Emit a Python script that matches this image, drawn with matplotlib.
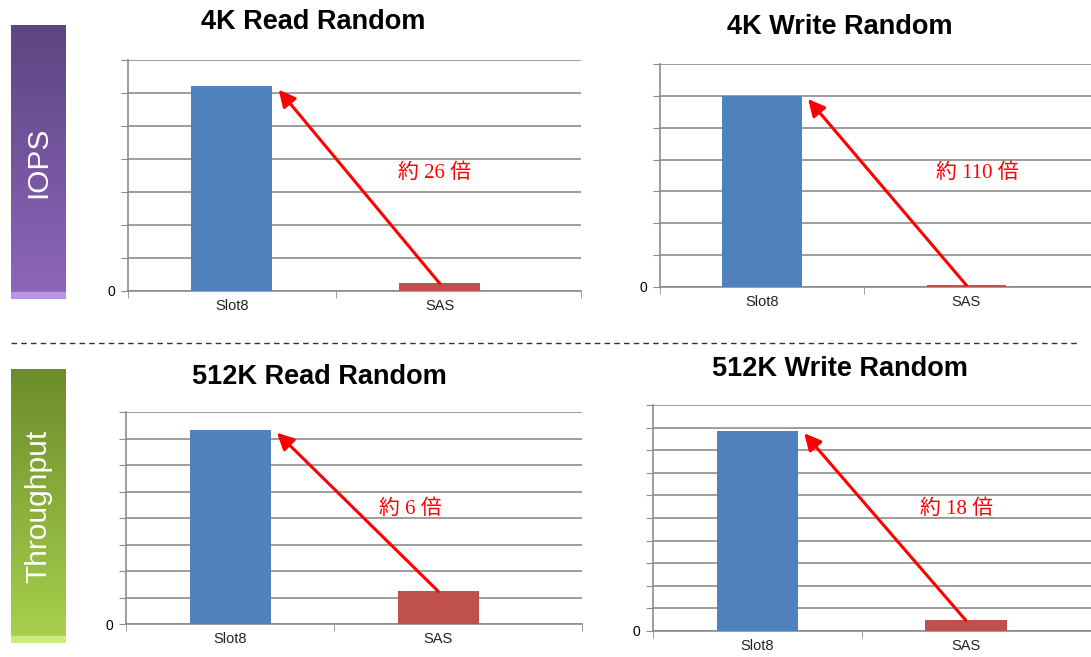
import numpy as np
import matplotlib
matplotlib.use('agg')
import matplotlib.pyplot as plt

# chart data (arbitrary units)
categories = ['Slot8', 'SAS']
titles = ['4K Read Random', '4K Write Random', '512K Read Random', '512K Write Random']
slot8_vals = [6.2, 6.0, 7.32, 8.85]
sas_vals = [0.23, 0.055, 1.23, 0.47]
ratio_labels = ['約 26 倍', '約 110 倍', '約 6 倍', '約 18 倍']
y_max = [7, 7, 8, 10]
side_labels = ['IOPS', 'Throughput']

W, H = 1091, 657
fig = plt.figure(figsize=(W / 100, H / 100), dpi=100)


def px_axes(left, top, right, bottom, **kw):
    return fig.add_axes([left / W, 1 - bottom / H, (right - left) / W, (bottom - top) / H], **kw)


# pixel boxes of the four plot areas + right xlim + title position
panels = [
    dict(box=(128, 60, 581, 291), xr=1.68, title=(313, 22), txt=(435, 173)),
    dict(box=(660, 64, 1091, 287), xr=1.61, title=(840, 27), txt=(977, 173)),
    dict(box=(126, 412, 582, 624), xr=1.69, title=(319, 377), txt=(410, 509)),
    dict(box=(653, 405, 1091, 631), xr=1.60, title=(840, 369), txt=(957, 509)),
]

grid_col = '#8c8c8c'
for i, p in enumerate(panels):
    ax = px_axes(*p['box'])
    x = np.arange(len(categories))
    ax.bar(x, [slot8_vals[i], sas_vals[i]], width=0.39,
           color=['#4f81bd', '#c0504d'], zorder=3)
    ax.set_xlim(-0.5, p['xr'])
    ax.set_ylim(0, y_max[i])
    ax.set_yticks(range(y_max[i] + 1))
    ax.set_yticklabels(['0'] + [''] * y_max[i], fontsize=10, family='Liberation Sans')
    ax.yaxis.grid(True, color=grid_col, lw=1.2, zorder=0)
    ax.set_xticks(x)
    ax.set_xticklabels(categories, fontsize=10.5, family='Liberation Sans', color='#222222')
    ax.set_xticks([-0.5, 0.5, p['xr']], minor=True)
    ax.tick_params(axis='x', which='major', length=0, pad=6)
    ax.tick_params(axis='x', which='minor', length=5, color=grid_col)
    ax.tick_params(axis='y', length=5, color=grid_col, pad=4)
    for s in ['top', 'right']:
        ax.spines[s].set_visible(False)
    for s in ['left', 'bottom']:
        ax.spines[s].set_color(grid_col)
        ax.spines[s].set_linewidth(1.2)

    # red arrow from SAS bar top to Slot8 bar corner
    ax.annotate('', xy=(x[0] + 0.39 / 2 + 0.03, slot8_vals[i] - 0.1),
                xytext=(x[1], sas_vals[i]),
                arrowprops=dict(arrowstyle='-|>,head_length=1.0,head_width=0.5',
                                color='#ff0000', lw=2.2, shrinkA=0, shrinkB=0),
                zorder=5)
    fig.text(p['txt'][0] / W, 1 - p['txt'][1] / H, ratio_labels[i], color='#ff0000',
             fontsize=15, ha='center', va='center',
             family=['Liberation Serif', 'Noto Sans CJK JP'])
    fig.text(p['title'][0] / W, 1 - p['title'][1] / H, titles[i], fontsize=19.5,
             fontweight='bold', ha='center', va='center', family='Liberation Sans')

# side label boxes with vertical gradient
boxes = [
    dict(box=(11, 25, 66, 299), top='#5d4682', bot='#8e66bb', edge='#b894e6'),
    dict(box=(11, 369, 66, 643), top='#6c8c2c', bot='#a8d24c', edge='#cdea80'),
]
for lab, b in zip(side_labels, boxes):
    ax = px_axes(*b['box'])
    c0 = np.array(matplotlib.colors.to_rgb(b['top']))
    c1 = np.array(matplotlib.colors.to_rgb(b['bot']))
    t = np.linspace(0, 1, 200)[:, None, None]
    grad = c0 * (1 - t) + c1 * t
    grad = np.repeat(grad, 2, axis=1)
    ax.imshow(grad, aspect='auto', extent=(0, 1, 0, 1), origin='upper')
    ax.axhspan(0, 0.025, color=b['edge'])
    ax.set_xlim(0, 1)
    ax.set_ylim(0, 1)
    ax.axis('off')
    ax.text(0.5, 0.5, lab, rotation=90, color='white', fontsize=21.5,
            ha='center', va='center', family='Liberation Sans')

# dashed separator
sep = fig.add_axes([0, 0, 1, 1], zorder=-1)
sep.axis('off')
sep.set_xlim(0, W)
sep.set_ylim(H, 0)
sep.plot([11, 1077], [343, 343], color='#333333', lw=1, ls=(0, (4, 3)))

fig.savefig('out.png', dpi=100)
